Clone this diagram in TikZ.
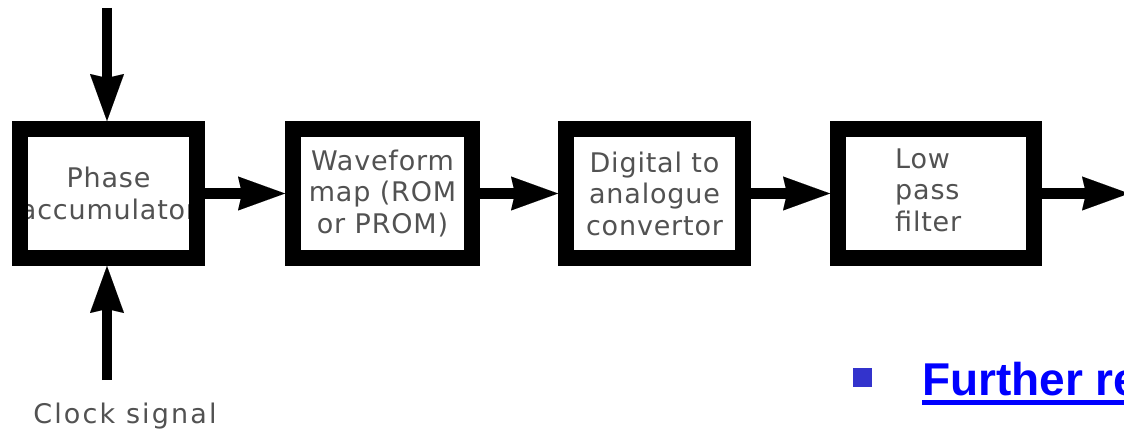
\documentclass[tikz,border=0pt]{standalone}
\usepackage{fontspec}
\setmainfont{DejaVu Sans}[LetterSpace=3]
\newfontfamily\linkfont{Liberation Sans}
\usetikzlibrary{arrows.meta}
\definecolor{txtgray}{gray}{0.32}
\definecolor{linkblue}{RGB}{0,0,255}
\definecolor{bulletblue}{RGB}{51,51,204}
\begin{document}
\begin{tikzpicture}[x=1pt,y=-1pt,
  blockbox/.style={draw=black, line width=16pt, outer sep=8pt, minimum height=129pt,
    inner sep=0pt, align=center, text=txtgray, font=\fontsize{27}{31.5}\selectfont},
  conn/.style={line width=10.5pt,
    -{Stealth[length=47pt,width=34pt,inset=4pt,line width=0.01pt]}},
  lbl/.style={text=txtgray, inner sep=0pt, font=\fontsize{27}{31.5}\selectfont}]
\clip (0,0) rectangle (1124,430);
\fill[white] (0,0) rectangle (1124,430);
\node[blockbox, minimum width=177pt] (acc) at (108.5,193.5) {Phase\\accumulator};
\node[blockbox, minimum width=179pt] (rom) at (382.5,193.5) {Waveform\\map (ROM\\or PROM)};
\node[blockbox, minimum width=177pt] (dac) at (654.5,193.5) {Digital to\\analogue\\convertor};
\node[blockbox, minimum width=196pt] (lpf) at (936,193.5) {};
\node[lbl, align=left, anchor=west] (lpft) at (895,190) {Low\\pass\\filter};
% border of the first box over its overflowing text
\draw[line width=16pt] ([xshift=8pt,yshift=-8pt]acc.north west) rectangle ([xshift=-8pt,yshift=8pt]acc.south east);
\coordinate (tin) at (107,8);
\coordinate (cin) at (107,380);
\coordinate (out) at (1129,193.5);
\node[lbl, anchor=base, font=\fontsize{27}{31}\selectfont\addfontfeature{LetterSpace=8}] (clk) at (125,423) {Clock signal};
\draw[conn] (tin) -- (acc.north -| tin);
\draw[conn] (cin) -- (acc.south -| cin);
\draw[conn] (acc) -- (rom);
\draw[conn] (rom) -- (dac);
\draw[conn] (dac) -- (lpf);
\draw[conn] (lpf) -- (out);
\node[fill=bulletblue, minimum size=19pt, inner sep=0pt] (bul) at (862.5,377) {};
\node[anchor=base west, inner sep=0pt, text=linkblue,
  font=\linkfont\bfseries\fontsize{46}{50}\selectfont] (fr) at (922,395) {Further re};
\fill[linkblue] (922,400) rectangle (1124,405);
\end{tikzpicture}
\end{document}
